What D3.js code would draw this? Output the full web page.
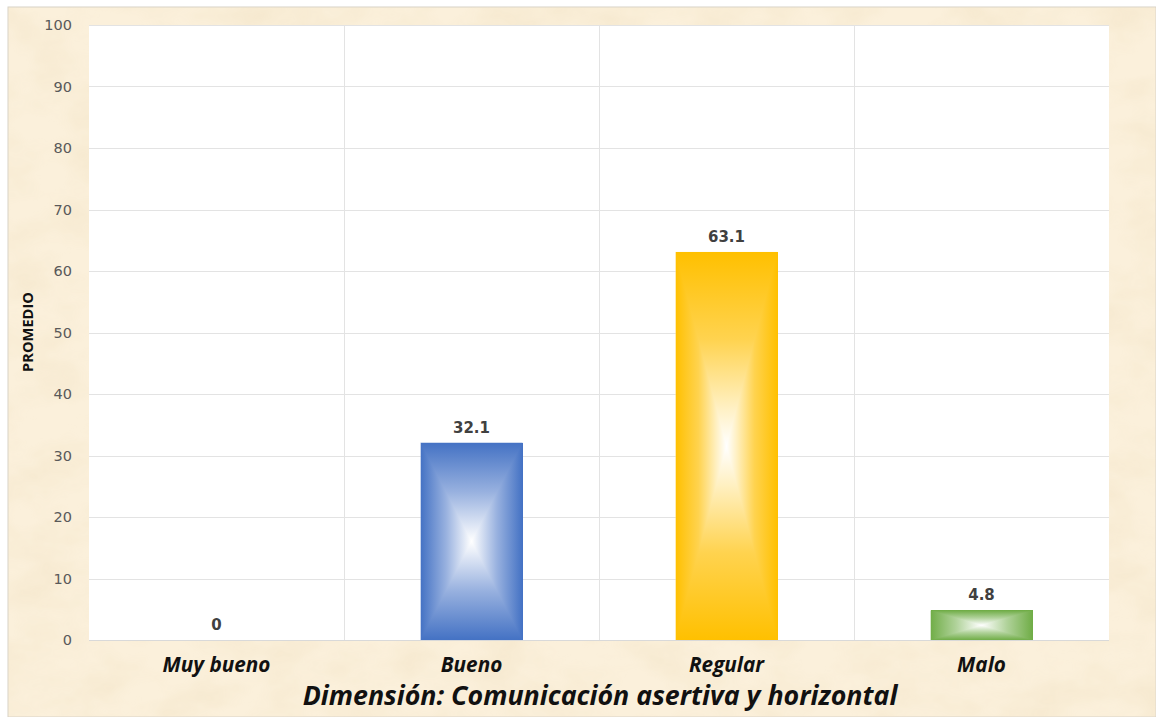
<!DOCTYPE html>
<html>
<head>
<meta charset="utf-8">
<script src="https://cdn.jsdelivr.net/npm/d3@7/dist/d3.min.js"></script>
<style>
  html, body { margin: 0; padding: 0; background: #ffffff; }
  svg { display: block; }
</style>
</head>
<body>
<svg id="chart" width="1156" height="717"></svg>
<script>
// ---- data ----
const categories = ["Muy bueno", "Bueno", "Regular", "Malo"];
const values = [0, 32.1, 63.1, 4.8];
const barColors = ["#4472c4", "#4472c4", "#ffc000", "#70ad47"];
const yTicks = [0, 10, 20, 30, 40, 50, 60, 70, 80, 90, 100];
const yLabel = "PROMEDIO";
const xTitle = "Dimensión: Comunicación asertiva y horizontal";

const W = 1156, H = 717;
const margin = { left: 89, right: 47, top: 25, bottom: 77 };
const svg = d3.select("#chart");
const defs = svg.append("defs");

// parchment texture
const filt = defs.append("filter").attr("id", "paper").attr("x", 0).attr("y", 0).attr("width", "100%").attr("height", "100%");
filt.append("feTurbulence").attr("type", "fractalNoise").attr("baseFrequency", "0.015 0.025").attr("numOctaves", 4).attr("seed", 7).attr("result", "n");
filt.append("feColorMatrix").attr("in", "n").attr("type", "matrix")
  .attr("values", "0 0 0 0 0.88  0 0 0 0 0.76  0 0 0 0 0.55  0 0 0 -1.8 1.15").attr("result", "c");
filt.append("feComposite").attr("in", "c").attr("in2", "SourceGraphic").attr("operator", "in");

svg.append("rect").attr("x", 8).attr("y", 7).attr("width", W - 8).attr("height", H - 7)
  .attr("fill", "#fbf0db").attr("stroke", "#d8d2c6").attr("stroke-width", 1);
svg.append("rect").attr("x", 8.5).attr("y", 7.5).attr("width", W - 9).attr("height", H - 8)
  .attr("fill", "#fbf0db").attr("filter", "url(#paper)").attr("opacity", 0.5);

const x = d3.scaleBand().domain(categories).range([margin.left, W - margin.right]).paddingInner(0).paddingOuter(0);
const y = d3.scaleLinear().domain([0, 100]).range([H - margin.bottom, margin.top]);

// plot area
svg.append("rect").attr("x", margin.left).attr("y", margin.top)
  .attr("width", W - margin.right - margin.left).attr("height", H - margin.bottom - margin.top)
  .attr("fill", "#ffffff");

// horizontal gridlines
svg.append("g").selectAll("line").data(yTicks.filter(d => d > 0)).join("line")
  .attr("x1", margin.left).attr("x2", W - margin.right)
  .attr("y1", d => Math.round(y(d)) + 0.5).attr("y2", d => Math.round(y(d)) + 0.5)
  .attr("stroke", "#e3e3e3").attr("stroke-width", 1);
// vertical gridlines between categories
svg.append("g").selectAll("line").data(categories.slice(1)).join("line")
  .attr("x1", d => Math.round(x(d)) + 0.5).attr("x2", d => Math.round(x(d)) + 0.5)
  .attr("y1", margin.top).attr("y2", H - margin.bottom)
  .attr("stroke", "#e3e3e3").attr("stroke-width", 1);
// baseline
svg.append("line").attr("x1", margin.left).attr("x2", W - margin.right)
  .attr("y1", Math.round(y(0)) + 0.5).attr("y2", Math.round(y(0)) + 0.5)
  .attr("stroke", "#d9d9d9");

// y axis
const yAxis = d3.axisLeft(y).tickValues(yTicks).tickSize(0).tickPadding(17);
const gy = svg.append("g").attr("transform", `translate(${margin.left},0)`).call(yAxis);
gy.select(".domain").remove();
gy.selectAll("text").attr("font-family", "'DejaVu Sans', Verdana, sans-serif")
  .attr("font-size", 14.5).attr("fill", "#595959");

// helper: fit font size so that a given text has a target width
function fitSize(sel, text, targetW) {
  const base = parseFloat(sel.attr("font-size"));
  const tmp = svg.append("text").attr("font-family", sel.attr("font-family"))
    .attr("font-weight", sel.attr("font-weight")).attr("font-style", sel.attr("font-style"))
    .attr("font-size", base).text(text);
  const w = tmp.node().getComputedTextLength();
  tmp.remove();
  return base * targetW / w;
}

// x axis labels
const xAxis = d3.axisBottom(x).tickSize(0).tickPadding(17);
const gx = svg.append("g").attr("transform", `translate(0,${H - margin.bottom})`).call(xAxis);
gx.select(".domain").remove();
gx.selectAll("text").attr("font-family", "'Open Sans', Lato, sans-serif")
  .attr("font-size", 17).attr("font-weight", "bold").attr("font-style", "italic").attr("fill", "#111");
const catSize = fitSize(gx.select("text"), categories[0], 108);
gx.selectAll("text").attr("font-size", catSize);

// bars with rectangular "path" gradient (4 triangles)
const bw = x.bandwidth() * 0.4;
const bars = svg.append("g");
values.forEach((v, i) => {
  if (v <= 0) return;
  const cxb = x(categories[i]) + x.bandwidth() / 2;
  const x0 = cxb - bw / 2, x1 = cxb + bw / 2;
  const y0 = y(v), y1 = y(0);
  const cx = (x0 + x1) / 2, cy = (y0 + y1) / 2;
  const col = barColors[i];
  const isYellow = col === "#ffc000";
  const stops = isYellow
    ? [[0, col], [0.45, "#ffd34f"], [0.8, "#fff0c2"], [1, "#ffffff"]]
    : [[0, col], [0.5, d3.interpolateRgb(col, "#ffffff")(0.45)], [1, "#ffffff"]];
  const tris = [
    { id: "l", pts: [[x0, y0], [x0, y1], [cx, cy]], g: [x0, cy, cx, cy] },
    { id: "r", pts: [[x1, y0], [x1, y1], [cx, cy]], g: [x1, cy, cx, cy] },
    { id: "t", pts: [[x0, y0], [x1, y0], [cx, cy]], g: [cx, y0, cx, cy] },
    { id: "b", pts: [[x0, y1], [x1, y1], [cx, cy]], g: [cx, y1, cx, cy] }
  ];
  bars.append("rect").attr("x", x0).attr("y", y0).attr("width", bw).attr("height", y1 - y0)
    .attr("fill", d3.interpolateRgb(col, "#ffffff")(0.4));
  tris.forEach(t => {
    const gid = `g${i}${t.id}`;
    const lg = defs.append("linearGradient").attr("id", gid).attr("gradientUnits", "userSpaceOnUse")
      .attr("x1", t.g[0]).attr("y1", t.g[1]).attr("x2", t.g[2]).attr("y2", t.g[3]);
    stops.forEach(s => lg.append("stop").attr("offset", s[0]).attr("stop-color", s[1]));
    bars.append("polygon").attr("points", t.pts.map(p => p.join(",")).join(" "))
      .attr("fill", `url(#${gid})`).attr("shape-rendering", "crispEdges");
  });
});

// data labels
svg.append("g").selectAll("text").data(values).join("text")
  .attr("x", (d, i) => x(categories[i]) + x.bandwidth() / 2)
  .attr("y", d => y(d) - 10)
  .attr("text-anchor", "middle")
  .attr("font-family", "'DejaVu Sans', Verdana, sans-serif")
  .attr("font-size", 15).attr("font-weight", "bold").attr("fill", "#404040")
  .text(d => d);

// y label
const ylab = svg.append("text").attr("transform", `translate(33,332) rotate(-90)`)
  .attr("text-anchor", "middle")
  .attr("font-family", "'Open Sans', Lato, sans-serif")
  .attr("font-size", 14).attr("font-weight", "bold").attr("fill", "#111");
ylab.attr("font-size", fitSize(ylab, yLabel, 80)).text(yLabel);

// x title
const title = svg.append("text").attr("x", 600).attr("y", 705)
  .attr("text-anchor", "middle")
  .attr("font-family", "'Open Sans', Lato, sans-serif")
  .attr("font-size", 22).attr("font-weight", "bold").attr("font-style", "italic").attr("fill", "#111");
title.attr("font-size", fitSize(title, xTitle, 595)).text(xTitle);
</script>
</body>
</html>
